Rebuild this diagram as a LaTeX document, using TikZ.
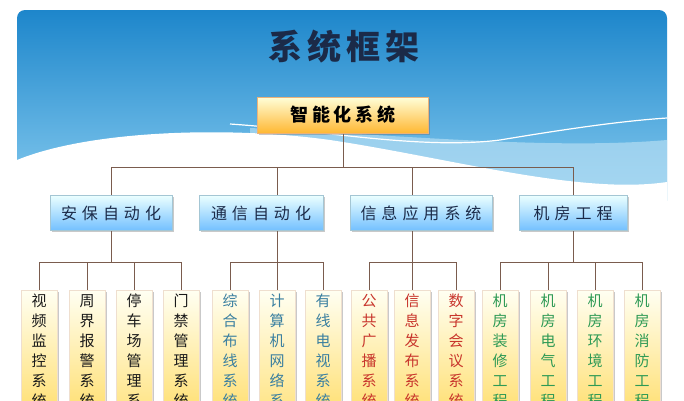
\documentclass[tikz,border=0pt]{standalone}
\usepackage{fontspec}
\setmainfont{Noto Sans CJK SC}
\usetikzlibrary{shadows}

\definecolor{skytop}{HTML}{1D86CB}
\definecolor{skybot}{HTML}{86CBEF}
\definecolor{skylight}{HTML}{B4DDF3}
\definecolor{titlecol}{HTML}{1B2A48}
\definecolor{linkcol}{HTML}{7A5C4E}
\definecolor{leafblack}{HTML}{1A1A1A}
\definecolor{leafblue}{HTML}{3A7FA0}
\definecolor{leafred}{HTML}{C8352C}
\definecolor{leafgreen}{HTML}{2E9A55}

\makeatletter
\newcommand{\spreadtxt}[2]{\@tfor\spch:=#2\do{\spch\hspace{#1}}\unskip}
\makeatother

\pgfdeclarelayer{bg}
\pgfdeclarelayer{lines}
\pgfsetlayers{bg,lines,main}

\tikzset{
	boxshadow/.style={drop shadow={shadow xshift=1.5pt, shadow yshift=-1.5pt, opacity=.35, fill=black!60}},
	rootbox/.style={draw=orange!50!brown!60, top color=yellow!15, bottom color=orange!70!yellow!80, boxshadow,
		minimum width=171pt, minimum height=36pt, inner sep=0pt, font=\fontsize{18}{20}\selectfont\bfseries},
	groupbox/.style={draw=cyan!40!gray!60, top color=cyan!8, bottom color=cyan!55!blue!55, boxshadow,
		minimum width=#1, minimum height=35pt, inner sep=0pt, text=titlecol, font=\fontsize{16}{18}\selectfont},
	leafbox/.style={draw=brown!25, top color=yellow!5, bottom color=orange!45!yellow!55, boxshadow,
		anchor=north, align=center, minimum width=36pt, inner sep=4pt, text=#1, font=\fontsize{15}{20}\selectfont},
	link/.style={draw=linkcol, line width=0.8pt}
}

\begin{document}
\begin{tikzpicture}[x=1pt, y=-1pt]
	\useasboundingbox (0,0) rectangle (684,400);

	% sky and wave
	\begin{pgfonlayer}{bg}
		\fill[white] (0,0) rectangle (684,400);
		\begin{scope}
			\clip[rounded corners=8pt] (17,10) rectangle (667,430);
			\shade[top color=skytop, bottom color=skybot] (17,10) rectangle (667,200);
			\fill[skylight, opacity=.7] (250,128) .. controls (400,135) and (550,150) .. (667,140) -- (667,200) -- (250,200) -- cycle;
			\fill[white] (17,160) .. controls (90,130) and (230,126) .. (330,140) .. controls (450,158) and (580,195) .. (667,182) -- (667,430) -- (17,430) -- cycle;
			\draw[white, line width=1.2pt] (230,124) .. controls (320,130) and (420,150) .. (500,140) .. controls (560,130) and (620,121) .. (667,118);
		\end{scope}
	\end{pgfonlayer}

	\node[text=titlecol, font=\fontsize{34}{36}\selectfont\bfseries] (title) at (344,47) {\spreadtxt{5pt}{系统框架}};

	\node[rootbox] (root) at (343,115) {\spreadtxt{4pt}{智能化系统}};

	\node[groupbox=122pt] (sec)  at (111,213) {\spreadtxt{5pt}{安保自动化}};
	\node[groupbox=124pt] (com)  at (261,213) {\spreadtxt{5pt}{通信自动化}};
	\node[groupbox=142pt] (info) at (421,213) {\spreadtxt{5pt}{信息应用系统}};
	\node[groupbox=108pt] (room) at (573,213) {\spreadtxt{5pt}{机房工程}};

	% leaves
	\foreach \x/\name/\txt in {39/s1/{视\\频\\监\\控\\系\\统}, 87/s2/{周\\界\\报\\警\\系\\统},
		134/s3/{停\\车\\场\\管\\理\\系\\统}, 181/s4/{门\\禁\\管\\理\\系\\统}}
		\node[leafbox=leafblack] (\name) at (\x,290) {\txt};
	\foreach \x/\name/\txt in {230/c1/{综\\合\\布\\线\\系\\统}, 277/c2/{计\\算\\机\\网\\络\\系\\统},
		323/c3/{有\\线\\电\\视\\系\\统}}
		\node[leafbox=leafblue] (\name) at (\x,290) {\txt};
	\foreach \x/\name/\txt in {369/i1/{公\\共\\广\\播\\系\\统}, 412/i2/{信\\息\\发\\布\\系\\统},
		456/i3/{数\\字\\会\\议\\系\\统}}
		\node[leafbox=leafred] (\name) at (\x,290) {\txt};
	\foreach \x/\name/\txt in {500/r1/{机\\房\\装\\修\\工\\程}, 548/r2/{机\\房\\电\\气\\工\\程},
		595/r3/{机\\房\\环\\境\\工\\程}, 642/r4/{机\\房\\消\\防\\工\\程}}
		\node[leafbox=leafgreen] (\name) at (\x,290) {\txt};

	% connectors
	\coordinate (topbus) at (0,167);
	\coordinate (lowbus) at (0,262);
	\begin{pgfonlayer}{lines}
		\draw[link] (root.south) -- (root.south |- topbus);
		\draw[link] (sec.north |- topbus) -- (room.north |- topbus);
		\foreach \n in {sec.north, c2.north, i2.north, room.north}
			\draw[link] (\n |- topbus) -- (\n |- lowbus);
		\draw[link] (s1.north |- lowbus) -- (s4.north |- lowbus);
		\draw[link] (c1.north |- lowbus) -- (c3.north |- lowbus);
		\draw[link] (i1.north |- lowbus) -- (i3.north |- lowbus);
		\draw[link] (r1.north |- lowbus) -- (r4.north |- lowbus);
		\foreach \n in {s1,s2,s3,s4,c1,c2,c3,i1,i2,i3,r1,r2,r3,r4}
			\draw[link] (\n.north |- lowbus) -- (\n.north);
	\end{pgfonlayer}
\end{tikzpicture}
\end{document}
